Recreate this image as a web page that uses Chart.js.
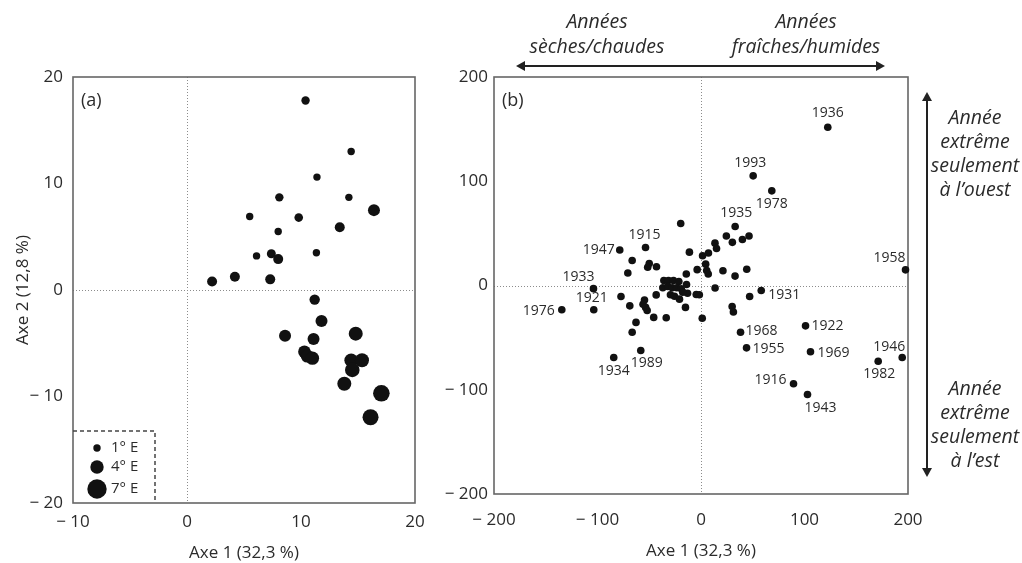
<!DOCTYPE html>
<html>
<head>
<meta charset="utf-8">
<script src="https://cdn.jsdelivr.net/npm/chart.js@4"></script>
<style>
  html, body { margin: 0; padding: 0; background: #fff; }
  .box { position: absolute; top: 0; height: 563px; }
</style>
</head>
<body>
<div class="box" style="left:0;width:440px"><canvas id="panelA"></canvas></div>
<div class="box" style="left:440px;width:582px"><canvas id="panelB"></canvas></div>
<script>
// (a) stations : coordinates on axes 1 and 2, longitude in degrees East
const stAxe1 = [10.4, 14.4, 11.4, 8.1, 14.2, 16.4, 5.5, 9.8, 13.4, 8.0, 6.1, 7.4, 8.0, 11.35, 2.2, 4.2,
  7.3, 11.2, 11.8, 8.6, 11.1, 14.8, 10.3, 10.55, 11.0, 14.4, 15.35, 14.5, 13.8, 17.05, 16.1];
const stAxe2 = [17.8, 13.0, 10.6, 8.7, 8.7, 7.5, 6.9, 6.8, 5.9, 5.5, 3.2, 3.4, 2.9, 3.5, 0.8, 1.25,
  1.0, -0.9, -2.9, -4.3, -4.6, -4.1, -5.8, -6.2, -6.4, -6.6, -6.6, -7.5, -8.8, -9.7, -11.95];
const stLon = [1.5, 1, 1, 1.5, 1, 3.3, 1, 1.6, 2.3, 1, 1, 1.8, 2.3, 1, 2.3, 2.3,
  2.3, 2.5, 3.3, 3.3, 3.3, 4.3, 3.6, 3.8, 4, 4.1, 4.3, 4.6, 4.3, 5.6, 5.3];
const lonLegend = [1, 4, 7];

// (b) years named on the plot
const years = [1936, 1993, 1978, 1935, 1958, 1947, 1915, 1933, 1921, 1976, 1934, 1989, 1931, 1968,
  1955, 1922, 1969, 1916, 1943, 1982, 1946];
const yrAxe1 = [122.5, 50.4, 68.4, 33, 197.6, -78.5, -53.6, -103.9, -103.6, -134.5, -84.3, -58.2, 58.2,
  38.2, 44, 101, 105.8, 89.4, 102.9, 171.2, 194.4];
const yrAxe2 = [151.8, 105.2, 90.8, 56.6, 15, 34, 36.5, -3, -23.3, -23.3, -69, -62.4, -4.8, -44.8,
  -59.8, -38.7, -63.6, -94.3, -104.6, -72.6, -69.1];
// (b) the other years
const otherAxe1 = [-19.6, -66.5, -70.7, -50, -51.5, -43, -11.2, -14.2, 1.5, 7.2, -3.7, 13.5, 15, 4.5,
  5.5, 7, 21.2, 24.5, 30.3, 40, 46.4, 44.2, 32.9, 13.6, 47, 30.1, 31.3, 1.2, -4.6, -1.6, -13, -15,
  -33.6, -45.7, -62.8, -66.5, -77.3, -68.8, -54.6, -56, -53.5, -52, -43.3,
  -35.9, -31.4, -26.6, -21.4, -36.9, -32.1, -27.8, -23.4, -19.1, -14, -29.5, -25.6, -20.8, -17.6];
const otherAxe2 = [59.5, 24, 12, 21, 17.5, 18, 32, 11, 28.5, 31.2, 15.2, 40.6, 35.5, 20.5,
  14.4, 11, 14.2, 47.5, 41.4, 44.1, 47.5, 15.6, 9, -2.4, -10.6, -20.1, -25.4, -31.4, -8.7, -8.9, -7.4, -21,
  -31, -30.6, -35.4, -44.8, -10.6, -19.5, -14, -18, -21, -24, -9,
  4.8, 4.8, 4.8, 3.8, -2.2, -1, -2.2, -2.2, -3.2, 1, -8.9, -10.3, -13.1, -6.4];

const ticksAx = [-10, 0, 10, 20];
const ticksAy = [-20, -10, 0, 10, 20];
const ticksB = [-200, -100, 0, 100, 200];

const FONT = '"Open Sans", "DejaVu Sans", sans-serif';
const INK = "#2b2b2b";
const radius = (lon) => 2.7 + lon;
const fmt = (v) => (v < 0 ? "\u2212 " + Math.abs(v) : String(v));

// label placement around each named year: dx, dy, alignment
const labelPlace = {
  1936: [0, -14, "center"], 1993: [-3, -13, "center"], 1978: [0, 13, "center"],
  1935: [1, -13, "center"], 1958: [-16, -12, "center"], 1947: [-5, 0, "right"],
  1915: [-1, -12, "center"], 1933: [-15, -12, "center"], 1921: [-2, -12, "center"],
  1976: [-7, 1, "right"], 1934: [0, 14, "center"], 1989: [6, 12, "center"],
  1931: [7, 5, "left"], 1968: [5, -1, "left"], 1955: [6, 1, "left"], 1922: [6, 0, "left"],
  1969: [7, 1, "left"], 1916: [-7, -4, "right"], 1943: [13, 13, "center"],
  1982: [1, 13, "center"], 1946: [-13, -11, "center"],
};

function axis(ticks, min, max, size, pad, horizontal, title) {
  return {
    type: "linear",
    min: min,
    max: max,
    grid: { display: false, drawTicks: false, tickLength: 0 },
    border: { display: false },
    afterBuildTicks: (s) => { s.ticks = ticks.map((v) => ({ value: v })); },
    afterFit: (s) => {
      if (horizontal) { s.height = size; s.paddingLeft = 0; s.paddingRight = 0; }
      else { s.width = size; s.paddingTop = 0; s.paddingBottom = 0; }
    },
    ticks: {
      padding: pad, color: INK, autoSkip: false, maxRotation: 0,
      font: { family: FONT, size: 17 }, callback: fmt,
    },
    title: title
      ? { display: true, text: title.text, color: INK, font: { family: FONT, size: 17 }, padding: title.padding }
      : { display: false },
  };
}

// frame, dotted zero lines and panel letter
const frame = {
  id: "frame",
  beforeDatasetsDraw(chart, args, opts) {
    const { ctx, chartArea: a, scales } = chart;
    const x0 = Math.round(scales.x.getPixelForValue(0)) + 0.5;
    const y0 = Math.round(scales.y.getPixelForValue(0)) + 0.5;
    ctx.save();
    ctx.strokeStyle = "#8c8c8c";
    ctx.lineWidth = 1;
    ctx.setLineDash([1, 2]);
    ctx.beginPath();
    ctx.moveTo(x0, a.top); ctx.lineTo(x0, a.bottom);
    ctx.moveTo(a.left, y0); ctx.lineTo(a.right, y0);
    ctx.stroke();
    ctx.setLineDash([]);
    ctx.strokeStyle = "#666";
    ctx.lineWidth = 1.6;
    ctx.strokeRect(a.left, a.top, a.right - a.left, a.bottom - a.top);
    ctx.fillStyle = INK;
    ctx.font = "18px " + FONT;
    ctx.textBaseline = "middle";
    ctx.fillText(opts.letter, a.left + 8, a.top + 24);
    ctx.restore();
  },
};

// size legend of panel (a)
const sizeLegend = {
  id: "sizeLegend",
  afterDatasetsDraw(chart) {
    const { ctx, chartArea: a } = chart;
    const top = 431, right = 155;
    ctx.save();
    ctx.strokeStyle = "#444";
    ctx.lineWidth = 1.5;
    ctx.setLineDash([4, 3]);
    ctx.beginPath();
    ctx.moveTo(a.left, top); ctx.lineTo(right, top); ctx.lineTo(right, a.bottom);
    ctx.stroke();
    ctx.setLineDash([]);
    const rows = [448, 467, 489];
    ctx.font = "15px " + FONT;
    ctx.textBaseline = "middle";
    lonLegend.forEach((lon, i) => {
      ctx.fillStyle = "#111";
      ctx.beginPath();
      ctx.arc(97, rows[i], radius(lon), 0, Math.PI * 2);
      ctx.fill();
      ctx.fillStyle = INK;
      ctx.fillText(lon + "\u00b0 E", 111, rows[i]);
    });
    ctx.restore();
  },
};

// year labels next to the points of panel (b)
const yearLabels = {
  id: "yearLabels",
  afterDatasetsDraw(chart) {
    const { ctx } = chart;
    const meta = chart.getDatasetMeta(0);
    ctx.save();
    ctx.fillStyle = INK;
    ctx.font = "14px " + FONT;
    ctx.textBaseline = "middle";
    years.forEach((yr, i) => {
      const pt = meta.data[i];
      const [dx, dy, align] = labelPlace[yr];
      ctx.textAlign = align;
      ctx.fillText(String(yr), pt.x + dx, pt.y + dy);
    });
    ctx.restore();
  },
};

function arrowHead(ctx, x, y, dir) {
  // dir: unit vector of the pointing direction
  const [ux, uy] = dir;
  ctx.beginPath();
  ctx.moveTo(x, y);
  ctx.lineTo(x - ux * 9 - uy * 5, y - uy * 9 + ux * 5);
  ctx.lineTo(x - ux * 9 + uy * 5, y - uy * 9 - ux * 5);
  ctx.closePath();
  ctx.fill();
}

// arrows and side notes of panel (b)
const notes = {
  id: "notes",
  afterDraw(chart) {
    const { ctx, chartArea: a } = chart;
    ctx.save();
    ctx.strokeStyle = "#222";
    ctx.fillStyle = "#222";
    ctx.lineWidth = 2;
    const ay = a.top - 11, x1 = a.left + 22, x2 = a.right - 23;
    ctx.beginPath(); ctx.moveTo(x1 + 4, ay); ctx.lineTo(x2 - 4, ay); ctx.stroke();
    arrowHead(ctx, x1, ay, [-1, 0]);
    arrowHead(ctx, x2, ay, [1, 0]);
    const vx = a.right + 19, y1 = a.top + 15, y2 = a.bottom - 17;
    ctx.beginPath(); ctx.moveTo(vx, y1 + 4); ctx.lineTo(vx, y2 - 4); ctx.stroke();
    arrowHead(ctx, vx, y1, [0, -1]);
    arrowHead(ctx, vx, y2, [0, 1]);

    ctx.font = "italic 19.5px " + FONT;
    ctx.textAlign = "center";
    ctx.textBaseline = "middle";
    ctx.fillStyle = INK;
    ctx.fillText("Années", 157, 22);
    ctx.fillText("sèches/chaudes", 157, 47);
    ctx.fillText("Années", 366, 22);
    ctx.fillText("fraîches/humides", 366, 47);
    const nx = a.right + 67;
    ["Année", "extrême", "seulement", "à l\u2019ouest"].forEach((t, i) => ctx.fillText(t, nx, 118 + i * 24));
    ["Année", "extrême", "seulement", "à l\u2019est"].forEach((t, i) => ctx.fillText(t, nx, 389 + i * 24));
    ctx.restore();
  },
};

new Chart(document.getElementById("panelA"), {
  type: "bubble",
  data: {
    datasets: [{
      data: stAxe1.map((x, i) => ({ x: x, y: stAxe2[i], r: radius(stLon[i]) })),
      backgroundColor: "#111",
      borderWidth: 0,
      clip: false,
    }],
  },
  options: {
    responsive: true,
    maintainAspectRatio: false,
    animation: false,
    events: [],
    layout: { padding: { top: 77, right: 25, left: 0, bottom: 0 } },
    plugins: { legend: { display: false }, tooltip: { enabled: false }, frame: { letter: "(a)" } },
    scales: {
      x: axis(ticksAx, -10, 20, 60, 9, true, { text: "Axe 1 (32,3 %)", padding: { top: 0, bottom: 0 } }),
      y: axis(ticksAy, -20, 20, 73, 10, false, { text: "Axe 2 (12,8 %)", padding: { top: 13, bottom: 0 } }),
    },
  },
  plugins: [frame, sizeLegend],
});

new Chart(document.getElementById("panelB"), {
  type: "scatter",
  data: {
    datasets: [
      {
        data: yrAxe1.map((x, i) => ({ x: x, y: yrAxe2[i] })),
        backgroundColor: "#111", pointRadius: 3.8, borderWidth: 0, clip: false,
      },
      {
        data: otherAxe1.map((x, i) => ({ x: x, y: otherAxe2[i] })),
        backgroundColor: "#111", pointRadius: 3.8, borderWidth: 0, clip: false,
      },
    ],
  },
  options: {
    responsive: true,
    maintainAspectRatio: false,
    animation: false,
    events: [],
    layout: { padding: { top: 77, right: 114, left: 0, bottom: 0 } },
    plugins: { legend: { display: false }, tooltip: { enabled: false }, frame: { letter: "(b)" } },
    scales: {
      x: axis(ticksB, -200, 200, 69, 16, true, { text: "Axe 1 (32,3 %)", padding: { top: 0, bottom: 2 } }),
      y: axis(ticksB, -200, 200, 54, 6, false, null),
    },
  },
  plugins: [frame, yearLabels, notes],
});
</script>
</body>
</html>
